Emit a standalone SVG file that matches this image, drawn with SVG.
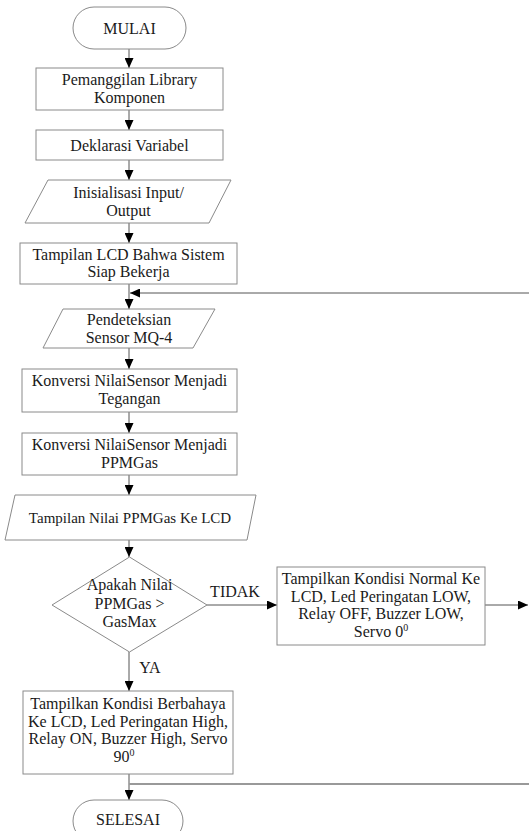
<svg xmlns="http://www.w3.org/2000/svg" width="529" height="831" viewBox="0 0 529 831">
<style>
.shape{fill:#fff;stroke:#8a8a8a;stroke-width:1}
.conn{fill:none;stroke:#555;stroke-width:1}
text{font-family:"Liberation Serif","DejaVu Serif",serif;font-size:16px;fill:#1a1a1a;text-anchor:middle}
.s{font-size:10px}
</style>
<defs>
<marker id="ah" markerUnits="userSpaceOnUse" markerWidth="10" markerHeight="9" refX="10" refY="4.5" orient="auto">
<path d="M0,0 L10,4.5 L0,9 Z" fill="#000"/>
</marker>
</defs>
<g id="connectors">
<line class="conn" x1="129" y1="49" x2="129" y2="68" marker-end="url(#ah)"/>
<line class="conn" x1="129" y1="110" x2="129" y2="130" marker-end="url(#ah)"/>
<line class="conn" x1="129" y1="160" x2="129" y2="180" marker-end="url(#ah)"/>
<line class="conn" x1="129" y1="223" x2="129" y2="243" marker-end="url(#ah)"/>
<line class="conn" x1="129" y1="284" x2="129" y2="309" marker-end="url(#ah)"/>
<line class="conn" x1="529" y1="293" x2="130" y2="293" marker-end="url(#ah)"/>
<line class="conn" x1="129" y1="348" x2="129" y2="369" marker-end="url(#ah)"/>
<line class="conn" x1="129" y1="412" x2="129" y2="433" marker-end="url(#ah)"/>
<line class="conn" x1="129" y1="475" x2="129" y2="495" marker-end="url(#ah)"/>
<line class="conn" x1="129" y1="540" x2="129" y2="557" marker-end="url(#ah)"/>
<line class="conn" x1="207" y1="605" x2="277" y2="605" marker-end="url(#ah)"/>
<line class="conn" x1="485" y1="605" x2="528" y2="605" marker-end="url(#ah)"/>
<line class="conn" x1="129" y1="652" x2="129" y2="691" marker-end="url(#ah)"/>
<line class="conn" x1="129" y1="774" x2="129" y2="800" marker-end="url(#ah)"/>
<line x1="129" y1="784" x2="529" y2="784" stroke="#999" stroke-width="2"/>
<text x="235" y="597">TIDAK</text>
<text x="150" y="673">YA</text>
</g>
<g id="mulai">
<rect class="shape" x="73" y="7" width="113" height="42" rx="21" ry="21"/>
<text x="129.5" y="33.5">MULAI</text>
</g>
<g id="library">
<rect class="shape" x="36" y="68" width="187" height="42"/>
<text x="129.5" y="85">Pemanggilan Library<tspan x="129.5" dy="18">Komponen</tspan></text>
</g>
<g id="deklarasi">
<rect class="shape" x="36" y="130" width="187" height="30"/>
<text x="129.5" y="150.5">Deklarasi Variabel</text>
</g>
<g id="inisialisasi">
<polygon class="shape" points="48,180 231,180 209,223 25,223"/>
<text x="128.5" y="198">Inisialisasi Input/<tspan x="128.5" dy="18">Output</tspan></text>
</g>
<g id="siap">
<rect class="shape" x="20" y="243" width="217" height="41"/>
<text x="128.5" y="259.5">Tampilan LCD Bahwa Sistem<tspan x="128.5" dy="17.5">Siap Bekerja</tspan></text>
</g>
<g id="deteksi">
<polygon class="shape" points="63,309 215,309 193,348 43,348"/>
<text x="129" y="325">Pendeteksian<tspan x="129" dy="17.5">Sensor MQ-4</tspan></text>
</g>
<g id="tegangan">
<rect class="shape" x="22" y="369" width="215" height="43"/>
<text x="129.5" y="386">Konversi NilaiSensor Menjadi<tspan x="129.5" dy="18">Tegangan</tspan></text>
</g>
<g id="ppmgas">
<rect class="shape" x="22" y="433" width="215" height="42"/>
<text x="129.5" y="450">Konversi NilaiSensor Menjadi<tspan x="129.5" dy="18">PPMGas</tspan></text>
</g>
<g id="tampilppm">
<polygon class="shape" points="15,495 256,495 247,540 5,540"/>
<text x="130" y="523" style="font-size:15px">Tampilan Nilai PPMGas Ke LCD</text>
</g>
<g id="keputusan">
<polygon class="shape" points="129.5,557 207,605 129.5,652 52,605"/>
<text x="129.5" y="590">Apakah Nilai<tspan x="129.5" dy="18.5">PPMGas &gt;</tspan><tspan x="129.5" dy="18">GasMax</tspan></text>
</g>
<g id="normal">
<rect class="shape" x="277" y="567" width="208" height="78"/>
<text x="381" y="584">Tampilkan Kondisi Normal Ke<tspan x="381" dy="17.5">LCD, Led Peringatan LOW,</tspan><tspan x="381" dy="17.5">Relay OFF, Buzzer LOW,</tspan><tspan x="381" dy="17.5">Servo 0</tspan><tspan class="s" dy="-6">0</tspan></text>
</g>
<g id="bahaya">
<rect class="shape" x="23" y="691" width="210" height="83"/>
<text x="128" y="709">Tampilkan Kondisi Berbahaya<tspan x="128" dy="17.5">Ke LCD, Led Peringatan High,</tspan><tspan x="128" dy="17.5">Relay ON, Buzzer High, Servo</tspan><tspan x="124" dy="17.5">90</tspan><tspan class="s" dy="-6">0</tspan></text>
</g>
<g id="selesai">
<rect class="shape" x="73" y="800" width="110" height="42" rx="21" ry="21"/>
<text x="128" y="825">SELESAI</text>
</g>
</svg>
